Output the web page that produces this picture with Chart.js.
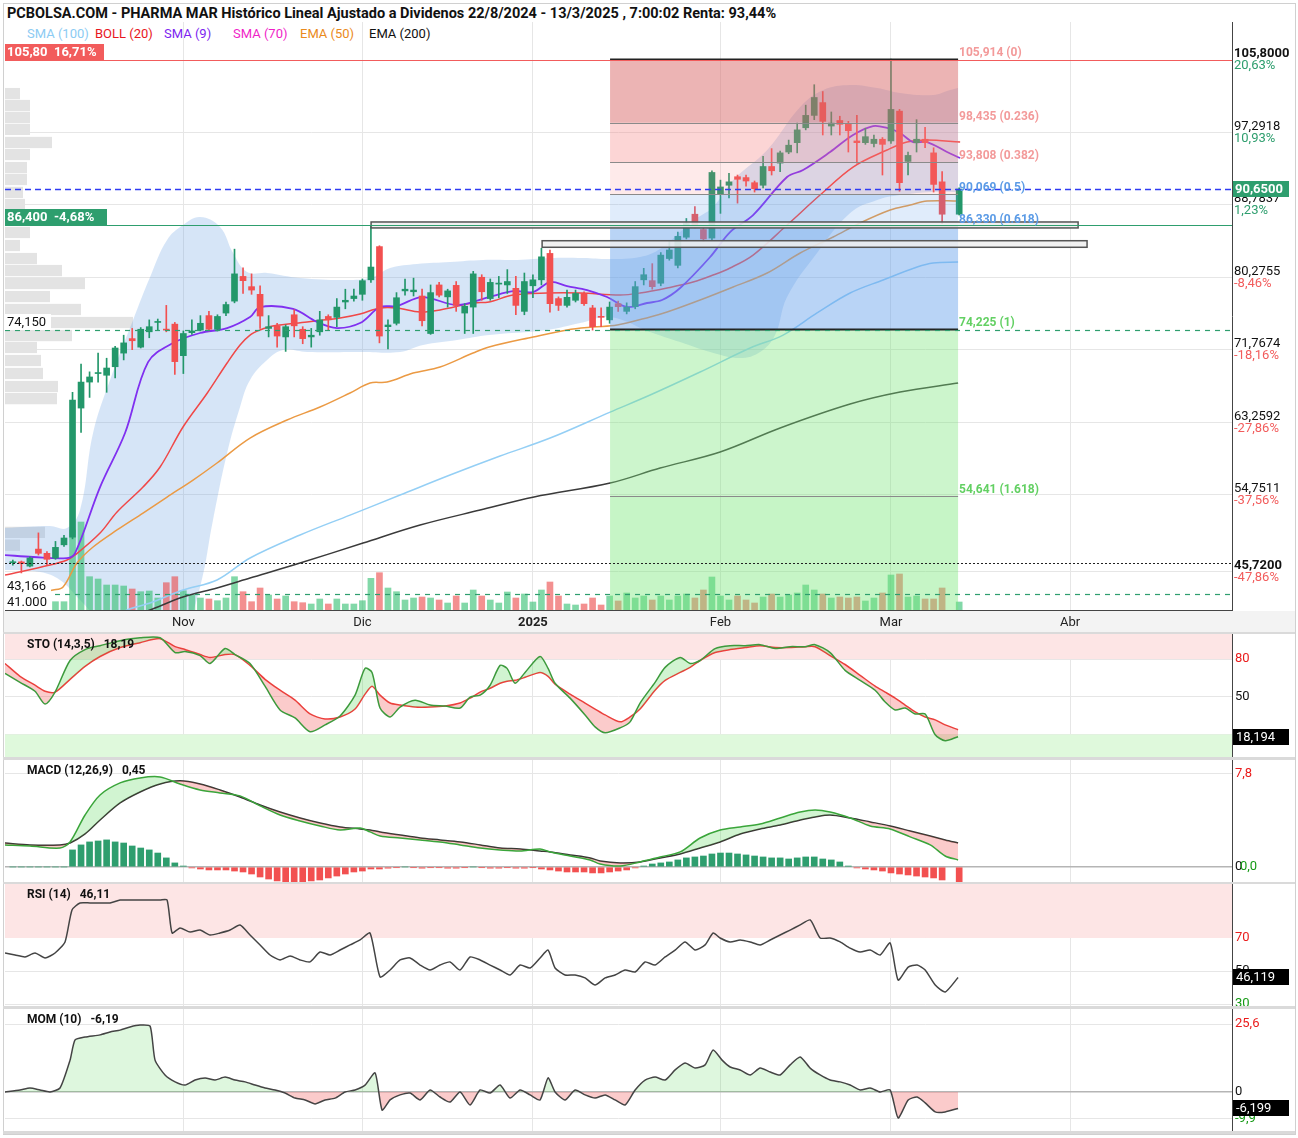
<!DOCTYPE html>
<html>
<head>
<meta charset="utf-8">
<script src="https://cdn.jsdelivr.net/npm/chart.js@4.4.1/dist/chart.umd.min.js"></script>
<style>
html,body{margin:0;padding:0;background:#fff;}
body{width:1298px;height:1138px;position:relative;overflow:hidden;font-family:Roboto,"Liberation Sans",Arial,sans-serif;}
canvas{position:absolute;left:0;}
.sep{position:absolute;left:3px;width:1292px;background:#dadada;}
#frame{position:absolute;left:3px;top:3px;width:1291px;height:1130px;border:1px solid #d0d0d0;}
#title{position:absolute;left:7px;top:5px;font-weight:bold;font-size:14.5px;color:#111;white-space:nowrap;}
.lg{position:absolute;top:26px;font-size:13px;white-space:nowrap;}
#xrow{position:absolute;left:4px;top:611px;width:1291px;height:21px;background:#f3f3f3;}
</style>
</head>
<body>
<div id="frame"></div>
<div id="xrow"></div>
<div id="title">PCBOLSA.COM - PHARMA MAR Histórico Lineal Ajustado a Dividenos 22/8/2024 - 13/3/2025 , 7:00:02 Renta: 93,44%</div>
<span class="lg" style="left:27px;color:#8ccbf3">SMA (100)</span>
<span class="lg" style="left:95px;color:#e8161e">BOLL (20)</span>
<span class="lg" style="left:164px;color:#7d1ff0">SMA (9)</span>
<span class="lg" style="left:233px;color:#f01fc8">SMA (70)</span>
<span class="lg" style="left:300px;color:#ea8a1c">EMA (50)</span>
<span class="lg" style="left:369px;color:#111">EMA (200)</span>
<canvas id="cMain" width="1298" height="610" style="top:22px"></canvas>
<div class="sep" style="top:632px;height:2px"></div>
<canvas id="cSto" width="1298" height="123" style="top:634px"></canvas>
<div class="sep" style="top:757px;height:3px"></div>
<canvas id="cMacd" width="1298" height="122" style="top:760px"></canvas>
<div class="sep" style="top:882px;height:2px"></div>
<canvas id="cRsi" width="1298" height="122" style="top:884px"></canvas>
<div class="sep" style="top:1006px;height:3px"></div>
<canvas id="cMom" width="1298" height="122" style="top:1009px"></canvas>
<div class="sep" style="top:1131px;height:3px"></div>
<script>
// ---------------- DATA ----------------
// trading-day index: 0 = 1 Nov 2024 ; first visible candle = -20
const firstDay = -20;
const monthK = [0, 21, 41, 63, 83, 104];
const monthLabels = ['Nov', 'Dic', '2025', 'Feb', 'Mar', 'Abr'];

const candleO = [46.8,46.9,46.4,48.4,47.9,47.35,48.9,49.8,64.95,68.0,69.0,68.8,69.8,71.4,73.1,72.1,73.9,75.0,74.2,74.8,
71.1,73.8,74.1,75.8,74.2,76.1,77.5,80.4,79.2,78.3,74.3,74.6,73.3,75.9,74.2,73.3,73.9,75.7,75.6,77.4,
77.8,78.3,80.0,83.9,74.5,74.9,78.7,78.6,78.1,73.7,79.4,78.0,79.35,76.1,76.8,80.3,77.8,79.5,79.4,79.0,
76.3,79.3,80.0,83.1,77.8,77.0,77.6,78.4,76.7,75.7,75.3,77.2,76.3,76.85,80.0,79.9,79.6,82.5,81.7,85.0,
87.7,85.9,84.9,90.0,91.1,92.1,92.0,91.4,91.1,93.3,93.7,95.0,96.1,97.85,99.3,100.8,98.05,98.7,98.3,96.3,
96.1,96.0,96.5,96.3,99.8,93.9,96.1,96.5,94.9,91.5,null,87.7];
const candleH = [47.1,47.0,47.5,50.3,48.1,49.3,50.0,66.8,70.1,69.2,71.4,70.8,72.2,73.5,74.3,74.4,75.3,75.4,77.0,75.0,
74.0,75.3,75.8,76.3,75.9,77.4,83.6,81.4,80.7,79.3,75.8,74.9,74.7,76.5,74.5,74.3,76.3,75.9,77.8,78.9,
78.9,80.1,86.3,84.0,75.3,78.5,80.1,80.2,78.9,79.4,79.7,78.9,79.8,77.2,81.0,80.6,80.1,80.4,81.2,80.4,
80.8,80.6,83.7,83.5,78.0,78.8,78.8,78.6,77.0,76.7,77.4,77.5,77.3,79.8,81.35,81.9,83.2,84.5,85.6,87.2,
88.6,86.3,92.8,91.7,92.5,92.3,92.3,91.6,94.5,95.4,95.1,96.4,98.4,100.5,102.9,102.1,99.7,99.2,98.6,99.3,
97.8,97.0,96.7,105.9,100.0,95.0,98.8,97.9,95.5,92.7,null,90.8];
const candleL = [46.5,45.6,46.3,47.7,46.5,47.2,48.7,49.6,62.1,66.2,68.0,66.8,68.5,70.6,71.8,72.0,73.2,74.1,73.9,68.9,
69.0,73.6,74.0,74.0,74.0,75.8,77.3,78.4,78.3,74.3,73.3,72.1,71.6,73.3,72.5,72.1,73.5,74.1,74.5,76.6,
77.5,77.6,79.7,72.6,71.9,74.7,78.2,78.1,74.6,73.6,78.0,76.8,76.3,73.7,73.7,77.6,77.6,77.9,78.4,75.9,
75.9,77.9,79.4,76.2,76.4,76.8,77.4,77.0,74.1,74.5,74.9,76.3,76.0,76.6,79.4,78.9,79.3,82.3,81.4,84.8,
86.1,84.5,84.6,87.8,89.6,89.0,91.0,90.3,90.8,92.3,92.7,94.8,94.9,97.6,98.8,97.0,97.0,97.0,95.0,93.7,
95.9,95.6,92.3,96.0,90.4,92.3,95.0,95.5,90.3,86.6,null,87.6];
const candleC = [46.85,46.7,47.35,47.9,47.2,48.6,49.7,65.9,68.0,68.6,69.1,69.65,72.0,72.6,72.85,74.2,74.5,75.1,74.1,70.4,
73.7,74.0,74.9,74.2,75.7,77.1,80.7,79.9,78.8,75.75,74.5,73.4,74.5,74.6,73.1,73.5,75.3,75.3,76.8,77.6,
78.1,79.9,81.5,73.4,74.7,77.9,78.9,78.8,75.2,78.5,78.2,78.7,77.0,76.9,80.7,78.6,79.7,79.6,79.8,77.0,
79.8,80.0,82.7,77.2,77.0,77.95,78.4,77.2,74.5,75.6,76.8,76.85,76.8,79.2,80.6,79.2,82.9,83.5,85.1,86.6,
86.4,84.8,92.6,90.9,91.5,91.8,91.6,90.7,93.3,92.8,94.9,95.8,97.6,99.3,101.4,98.6,98.4,98.25,97.5,96.1,
96.8,96.5,95.9,100.0,91.4,94.6,96.5,96.1,91.2,87.7,null,90.65];
// volume, thousands of shares
const volume = [150,150,150,150,150,166,166,1600,1760,666,620,500,500,480,420,366,380,240,546,666,
386,300,240,220,186,240,666,366,166,440,300,220,280,166,146,120,220,120,220,120,
120,186,634,746,440,366,200,240,260,240,200,140,280,140,400,280,200,140,360,240,
320,160,400,560,280,120,100,120,240,100,280,180,340,240,280,200,280,200,280,320,
240,400,660,280,200,280,200,140,260,320,260,300,340,500,400,320,240,260,240,260,
180,240,340,700,720,260,280,220,220,440,null,160];

// moving averages / bands: [day index] and [price]
const sma9K = [-20.92,-17.63,-13.64,-12.70,-9.77,-6.84,-4.14,-1.21,1.96,5.13,7.82,8.99,12.87,15.68,18.03,20.73,23.07,25.07,28.00,32.11,35.86,38.68,41.02,43.02,45.01,47.36,49.70,52.05,54.39,56.15,58.27,61.79,64.13,66.83,70.81,72.69,75.86,78.55,80.90,82.54,84.07,85.59,87.23,89.58,91.11];
const sma9V = [47.7,47.47,47.35,47.93,55.68,62.02,70.35,72.58,73.76,74.34,75.64,76.81,76.58,75.05,74.34,74.93,76.81,76.93,77.98,77.04,77.98,78.68,78.57,79.74,79.27,78.8,77.98,76.81,77.28,77.63,79.04,82.68,85.61,87.6,92.07,92.89,95.0,97.0,98.05,97.82,97.23,96.17,96.17,95.0,94.3];
const bollK = [-20.92,-15.64,-13.64,-12.70,-9.77,-7.78,-4.73,-2.73,-0.04,2.81,5.13,6.65,7.82,8.99,10.49,14.51,16.39,18.38,20.73,23.07,25.07,27.77,30.11,33.98,35.86,38.68,42.67,46.54,51.23,53.57,56.74,59.79,62.14,64.13,66.83,70.81,74.68,78.55,82.54,84.88,87.23,91.11];
const bollMidV = [45.35,46.53,47.12,47.7,50.28,52.75,55.68,58.03,62.73,66.72,70.24,72.35,73.52,74.11,74.58,75.05,75.28,75.52,75.99,76.69,76.69,76.22,76.46,77.28,77.4,78.22,78.45,78.45,78.22,78.45,79.04,79.74,80.56,81.39,82.91,86.43,89.95,93.24,95.24,96.17,96.41,96.17];
const bollUpK = [-20.92,-15.64,-13.64,-12.12,-10.59,-8.60,-5.90,-3.90,-1.91,-0.04,1.96,4.30,5.83,7.47,9.82,13.69,19.55,22.25,24.25,27.41,31.28,35.15,39.14,43.02,46.89,50.06,53.57,55.92,58.27,60.26,62.14,64.49,68.48,72.35,75.05,78.21,81.38,84.07,87.95,89.94,90.87];
const bollUpV = [50.87,51.1,50.87,52.98,62.02,68.24,75.28,80.33,84.67,86.43,87.37,86.2,83.15,80.92,80.8,80.21,79.98,80.33,81.39,81.86,82.09,82.33,82.33,82.56,82.56,82.44,82.68,83.62,85.61,87.25,88.55,91.72,95.24,100.28,102.28,102.87,102.51,101.93,101.69,102.28,102.51];
const bollLoK = [-20.92,-16.81,-14.47,-12.12,-9.77,-6.25,-2.73,0.20,1.96,3.48,5.13,6.65,7.82,9.82,11.69,14.51,21.08,25.42,28.12,32.11,35.86,42.67,46.54,50.06,54.75,58.27,61.79,65.31,67.65,69.41,70.81,74.33,78.21,81.38,84.07,87.95,90.87];
const bollLoV = [45.94,45.71,44.77,42.42,40.07,37.73,37.73,39.49,43.95,51.81,59.67,65.07,68.24,70.59,71.76,71.53,71.53,71.53,72.35,72.94,73.52,74.11,74.93,75.64,73.88,72.7,71.53,70.82,71.53,73.52,77.98,83.15,87.84,89.37,89.95,90.31,90.31];
const ema50K = [-20.92,-17.99,-15.28,-14.11,-12.47,-10.59,-7.78,-4.73,-1.91,1.14,3.95,7.82,12.16,16.03,19.55,21.90,23.90,26.95,30.11,33.98,35.86,41.02,45.01,48.06,50.88,54.75,56.74,60.61,64.49,68.48,72.35,76.22,79.38,82.90,85.25,87.23,90.87];
const ema50V = [42.89,43.12,43.59,43.95,46.76,48.64,50.64,52.63,54.51,56.5,58.5,61.43,63.55,65.07,66.72,67.89,68.0,69.06,69.77,71.41,72.12,73.29,74.11,74.46,74.7,75.64,76.22,77.63,79.16,80.8,83.15,85.03,86.67,88.19,88.78,89.25,89.25];
const sma100K = [-8.0,-6.60,-3.90,-0.04,3.95,7.82,13.69,19.55,25.42,31.28,37.15,43.02,50.06,54.75,60.61,66.48,70.35,74.33,78.21,82.08,86.07,87.95,90.87];
const sma100V = [40.3,41.25,42.07,43.59,44.77,47.35,50.05,52.39,54.74,57.09,59.32,61.43,64.48,66.48,69.18,72.0,73.52,76.11,78.45,79.98,81.5,81.97,82.09];
const ema200K = [-6.0,-3.90,-0.04,3.95,7.82,13.69,21.08,27.77,34.81,41.14,50.06,55.92,62.96,70.00,78.21,84.07,90.87];
const ema200V = [40.5,41.25,42.78,43.84,45.0,46.76,49.11,51.22,52.98,54.51,56.15,57.91,59.79,62.61,65.42,66.83,67.89];

// volume-at-price profile (left)
const profPrice = [101.8,100.4,99.0,97.6,96.06,94.65,93.12,91.72,90.2,88.78,87.37,85.5,83.97,82.44,81.03,79.51,77.98,76.46,74.93,73.4,72.0,70.47,68.95,67.42,66.0,50.3,48.8];
const profVol = [150,250,250,250,470,250,220,220,180,200,220,250,150,320,570,800,450,760,1280,670,320,360,380,530,520,400,150];

// Fibonacci retracement
const fibStart = 50.05, fibEnd = 90.87;
const fibLevels = [105.914, 98.435, 93.808, 90.069, 86.330, 74.225, 54.641];
const fibText = ['105,914 (0)', '98,435 (0.236)', '93,808 (0.382)', '90,069 (0.5)', '86,330 (0.618)', '74,225 (1)', '54,641 (1.618)'];

// horizontal levels and boxes
const levelValues = [105.8, 90.65, 86.4, 74.15, 46.76, 43.166];
const rectStart = [22.02, 42.08], rectEnd = [104.95, 106.0];
const rectHigh = [86.79, 84.59], rectLow = [86.09, 83.82];
const leftLabelValues = [105.8, 86.4, 74.15, 43.166, 41.25];
const leftLabelText = ['105,80  16,71%', '86,400  -4,68%', '74,150', '43,166', '41.000'];
const lastPrice = 90.65, lastPriceText = '90,6500';

// right axis
const priceTicks = [105.8, 97.2918, 88.7837, 80.2755, 71.7674, 63.2592, 54.7511, 45.72];
const priceTickText = ['105,8000','97,2918','88,7837','80,2755','71,7674','63,2592','54,7511','45,7200'];
const priceTickPct = ['20,63%','10,93%','1,23%','-8,46%','-18,16%','-27,86%','-37,56%','-47,86%'];

// Stochastic
const stoX = [-20.92,-19.16,-17.40,-16.22,-15.05,-13.29,-11.53,-9.77,-7.42,-5.08,-2.73,-0.97,0.20,1.96,3.13,4.89,6.06,7.82,9.58,11.34,13.10,14.86,16.62,18.38,20.14,21.31,22.13,23.07,24.25,25.42,27.18,28.94,30.70,32.46,33.63,34.81,35.98,37.15,37.97,38.91,40.08,41.84,42.78,43.60,45.36,47.12,48.29,49.47,51.23,52.40,53.57,55.33,56.51,58.27,59.44,60.61,62.37,64.13,65.89,67.65,69.41,71.17,72.93,74.10,75.86,77.62,79.38,81.14,82.32,83.49,84.66,85.84,87.01,88.19,89.36,90.87];
const stoK = [68.6,61.5,54.4,44.2,53.7,78.9,87.6,90.7,94.7,97.0,97.0,85.2,86.0,82.8,76.5,88.4,83.6,76.5,58.4,39.5,33.1,22.1,27.6,34.7,51.3,72.6,69.4,41.0,33.9,41.8,47.3,43.4,42.6,41.0,49.7,51.3,59.2,75.0,72.6,60.8,69.4,82.1,72.6,60.8,48.9,35.5,26.0,21.3,25.2,30.0,45.0,61.5,73.4,81.3,76.5,78.9,88.4,90.7,90.7,91.5,88.4,89.9,89.9,91.5,85.2,71.0,63.1,55.2,45.8,39.5,41.0,36.3,36.3,19.7,15.0,18.2];
const stoD = [76.5,66.3,59.2,54.4,53.7,63.9,74.2,82.1,89.2,93.1,96.3,89.9,87.6,83.6,81.3,83.6,83.6,75.0,63.9,55.2,47.3,36.3,32.3,33.9,40.2,52.1,58.4,51.3,45.0,43.4,41.8,41.8,42.6,45.0,48.9,53.7,56.8,60.8,62.3,63.1,65.5,69.4,66.3,60.0,52.1,45.0,40.2,35.5,30.0,33.9,40.2,55.2,63.1,69.4,73.4,78.9,85.2,87.6,89.2,90.7,89.2,89.2,89.9,89.9,82.8,75.7,67.1,58.4,53.7,48.9,43.4,37.9,33.9,31.6,27.6,23.7];

// MACD
const macdX = [-20.92,-17.99,-14.47,-13.29,-11.53,-9.77,-7.42,-5.08,-2.73,-0.39,1.96,4.30,6.65,9.00,11.34,13.69,16.03,18.38,20.73,21.90,23.07,25.42,27.77,30.11,32.46,34.81,37.15,39.50,41.84,43.02,45.36,47.71,48.88,51.23,53.57,55.92,58.27,60.61,62.96,65.31,67.65,70.00,72.35,74.10,75.86,78.21,80.56,82.90,85.25,87.60,89.36,90.87];
const macdLine = [1.85,1.76,1.59,2.10,4.36,6.04,7.05,7.47,7.55,6.96,6.46,6.21,5.96,5.12,4.36,3.86,3.44,3.10,3.27,2.94,2.60,2.43,2.27,2.10,1.85,1.59,1.43,1.34,1.51,1.26,0.92,0.59,0.25,0.08,0.42,0.84,1.26,2.43,3.10,3.36,3.61,4.11,4.61,4.78,4.61,4.11,3.44,3.19,2.52,1.85,0.92,0.59];
const macdSignal = [2.01,1.85,1.85,2.01,2.77,3.94,5.37,6.29,6.96,7.22,6.96,6.46,5.87,5.20,4.61,4.11,3.69,3.36,3.19,3.10,2.94,2.68,2.43,2.27,2.10,1.85,1.59,1.51,1.34,1.26,1.01,0.76,0.50,0.34,0.42,0.76,1.09,1.59,2.10,2.77,3.19,3.52,3.94,4.20,4.36,4.11,3.78,3.44,3.02,2.60,2.27,2.01];
const macdHist = [0,0,0,0,0,0,0,1.43,1.85,2.10,2.18,2.27,2.10,2.01,1.76,1.59,1.43,1.17,0.76,0.34,
0.08,-0.08,-0.17,-0.25,-0.25,-0.25,-0.34,-0.42,-0.59,-0.84,-1.01,-1.17,-1.26,-1.26,-1.26,-1.17,-1.09,-0.92,-0.76,-0.59,
-0.42,-0.34,-0.17,-0.17,-0.1,-0.05,0,-0.05,-0.1,-0.05,-0.05,-0.1,-0.1,-0.05,0,-0.05,-0.1,-0.1,-0.05,-0.1,
-0.1,-0.05,-0.17,-0.25,-0.34,-0.42,-0.42,-0.42,-0.5,-0.5,-0.42,-0.34,-0.25,-0.08,0.08,0.25,0.34,0.42,0.59,0.76,
0.84,0.92,1.09,1.17,1.17,1.09,1.01,0.92,0.84,0.76,0.76,0.67,0.76,0.84,0.84,0.67,0.59,0.42,0.08,-0.08,
-0.17,-0.25,-0.34,-0.5,-0.59,-0.67,-0.76,-0.84,-0.92,-1.09,null,-1.26];

// RSI
const rsiX = [-20.92,-19.74,-18.57,-17.40,-16.22,-15.05,-13.88,-13.06,-12.12,-10.95,-9.77,-8.60,-7.42,-6.25,-5.08,-3.90,-2.73,-1.91,-1.32,-0.39,0.79,1.96,3.13,4.30,5.48,6.65,7.82,9.00,10.17,11.34,12.52,13.69,14.86,16.03,17.21,18.38,19.55,20.73,21.90,23.07,24.25,25.42,26.59,27.77,28.94,30.11,31.28,32.46,33.63,34.81,35.98,37.15,38.32,39.50,40.67,41.84,42.78,43.60,44.77,45.95,47.12,48.29,49.47,50.64,51.81,52.99,54.16,55.33,56.51,57.68,58.85,60.03,61.20,62.14,62.96,64.13,65.31,66.48,67.65,68.83,70.00,71.17,72.35,73.52,74.69,75.86,77.04,78.21,79.38,80.56,81.73,82.90,83.84,85.02,86.07,87.01,88.19,89.36,90.87];
const rsiV = [60.9,59.7,58.5,60.9,57.9,60.9,67.6,87.0,91.2,91.2,91.2,91.2,93.0,93.0,93.0,93.0,93.0,93.0,73.0,76.1,73.6,74.8,71.8,73.0,74.8,77.9,71.8,65.8,59.7,56.7,59.1,56.7,55.5,61.5,59.7,62.7,65.8,68.8,73.0,46.4,50.6,56.7,57.9,53.6,50.6,53.6,55.5,50.6,58.5,56.7,53.6,50.6,47.6,53.6,51.8,57.9,62.7,51.8,47.6,47.6,45.8,41.5,45.8,47.6,50.6,49.4,55.5,53.6,58.5,62.7,67.6,62.7,65.8,73.0,70.0,67.6,68.8,67.6,65.8,68.8,71.8,74.8,77.9,80.9,70.0,70.0,67.6,63.9,61.5,62.7,59.7,67.0,44.5,52.4,53.6,50.6,41.5,37.3,46.1];

// Momentum
const momX = [-20.92,-19.16,-17.99,-16.81,-15.64,-14.47,-13.29,-12.70,-11.53,-9.77,-8.60,-7.42,-6.25,-5.08,-3.90,-3.32,-2.15,-0.97,0.20,1.37,2.55,3.72,4.89,6.06,7.24,8.41,9.58,10.76,11.93,13.10,14.28,15.45,16.62,17.79,18.97,20.14,21.31,22.49,23.31,24.25,25.42,26.59,27.77,28.94,30.11,31.28,32.46,33.63,34.81,35.98,37.15,38.32,39.50,40.67,41.84,42.78,43.60,44.77,45.95,47.12,48.29,49.47,50.64,51.81,52.99,54.16,55.33,56.51,57.68,58.85,60.03,61.20,62.14,63.19,64.13,65.31,66.48,67.65,68.83,70.00,71.17,72.35,73.52,74.69,75.86,77.04,78.21,79.38,80.56,81.73,82.90,83.84,85.02,86.07,87.01,88.19,89.36,90.87];
const momV = [0,0.75,1.5,0.75,0,1.5,12.0,19.6,20.7,21.5,22.6,23.3,24.5,25.2,24.8,12.0,6.4,3.8,2.6,4.5,5.3,4.5,5.6,4.5,3.8,2.6,1.5,0.75,-0.4,-2.3,-3.0,-4.5,-3.0,-2.3,0,0.75,2.6,7.2,-6.8,-3.0,-1.1,-0.4,-3.0,0.75,-1.9,-3.8,0,-4.9,0.75,-0.4,2.6,-2.3,0.75,-1.1,-3.0,5.3,0,-3.0,0.75,-1.1,-2.3,-1.1,-3.0,-4.9,0.75,4.5,5.6,4.5,8.3,10.9,9.0,10.2,15.8,12.0,9.4,8.3,6.4,9.0,7.5,6.4,10.2,13.2,9.0,6.4,4.5,3.8,2.6,0.75,1.5,0,0.75,-9.8,-3.0,-1.9,-4.1,-7.5,-7.5,-6.2];

// ---------------- STYLE / BUILD ----------------
const FONT = "Roboto, 'Liberation Sans', Arial, sans-serif";
Chart.defaults.font.family = FONT;
Chart.defaults.animation = false;
const K_MIN = -20.92, K_MAX = 123.0;
const GREEN = '#23976a', RED = '#f25050';

const pts = (xs, vs) => xs.map((x, i) => ({x: x, y: vs[i]}));

function xAxis(showLabels) {
  return {
    type: 'linear', min: K_MIN, max: K_MAX, offset: false,
    afterBuildTicks: s => { s.ticks = monthK.map(v => ({value: v})); },
    ticks: {
      display: showLabels, autoSkip: false, maxRotation: 0, padding: 5, color: '#222',
      font: c => ({size: 13, weight: (c.tick && c.tick.value === 41) ? 'bold' : 'normal'}),
      callback: v => monthLabels[monthK.indexOf(v)]
    },
    grid: {color: '#e6e6e6', drawTicks: false, offset: false},
    border: {display: showLabels, color: '#444'},
    afterFit: s => { s.height = showLabels ? 22 : 0; }
  };
}

// candles
const cBody = [], cWick = [], cCol = [], vBars = [], vCol = [];
candleO.forEach((o, i) => {
  const k = firstDay + i;
  if (o === null) return;
  const c = candleC[i];
  const up = c >= o;
  cBody.push({x: k, y: [Math.min(o, c), Math.max(o, c)]});
  cWick.push({x: k, y: [candleL[i], candleH[i]]});
  cCol.push(up ? GREEN : RED);
  vBars.push({x: k, y: volume[i]});
  vCol.push(up ? 'rgba(46,190,110,0.6)' : 'rgba(235,70,70,0.6)');
});

const mainPlugin = {
  id: 'mainDeco',
  beforeDatasetsDraw(chart) {
    const {ctx, chartArea: a, scales} = chart;
    const y = scales.y, xp = scales.xp;
    ctx.save();
    ctx.fillStyle = '#e3e3e3';
    profPrice.forEach((p, i) => {
      const yt = y.getPixelForValue(p + 0.72), yb = y.getPixelForValue(p - 0.72);
      const w = xp.getPixelForValue(profVol[i]) - xp.getPixelForValue(0);
      ctx.fillRect(a.left, yt, w, yb - yt - 1);
    });
    ctx.restore();
  },
  afterDatasetsDraw(chart) {
    const {ctx, chartArea: a, scales: {x, y}} = chart;
    ctx.save();
    ctx.beginPath(); ctx.rect(a.left, a.top, a.width, a.height); ctx.clip();
    const x0 = x.getPixelForValue(fibStart), x1 = x.getPixelForValue(fibEnd);
    const ys = fibLevels.map(v => y.getPixelForValue(v));
    const zoneCol = ['rgba(217,105,105,0.5)', 'rgba(246,126,126,0.33)', 'rgba(246,126,126,0.16)',
      'rgba(100,160,235,0.2)', 'rgba(100,160,235,0.45)', 'rgba(120,230,120,0.38)', 'rgba(120,230,120,0.42)'];
    for (let i = 0; i < ys.length; i++) {
      const yb = i < ys.length - 1 ? ys[i + 1] : a.bottom;
      ctx.fillStyle = zoneCol[i];
      ctx.fillRect(x0, ys[i], x1 - x0, yb - ys[i]);
    }
    ys.forEach((yy, i) => {
      ctx.beginPath();
      ctx.strokeStyle = (i === 0 || i === 5) ? '#222' : '#8a8a8a';
      ctx.lineWidth = (i === 0 || i === 5) ? 2 : 1;
      ctx.moveTo(x0, Math.round(yy) + 0.5); ctx.lineTo(x1, Math.round(yy) + 0.5); ctx.stroke();
    });
    rectStart.forEach((s, i) => {
      const rx0 = x.getPixelForValue(s), rx1 = x.getPixelForValue(rectEnd[i]);
      const ry0 = y.getPixelForValue(rectHigh[i]), ry1 = y.getPixelForValue(rectLow[i]);
      ctx.fillStyle = 'rgba(238,238,238,0.85)';
      ctx.fillRect(rx0, ry0, rx1 - rx0, ry1 - ry0);
      ctx.strokeStyle = '#555'; ctx.lineWidth = 1.5;
      ctx.strokeRect(rx0, ry0, rx1 - rx0, ry1 - ry0);
    });
    const lvStyle = [
      {c: '#f25c5c', d: [], w: 1.2}, {c: '#2f3cf2', d: [6, 4], w: 1.4}, {c: '#2e9e6e', d: [], w: 1.2},
      {c: '#2e9e6e', d: [5, 5], w: 1.2}, {c: '#222', d: [2, 2], w: 1}, {c: '#2e9e6e', d: [5, 5], w: 1.2}];
    levelValues.forEach((v, i) => {
      const yy = Math.round(y.getPixelForValue(v)) + 0.5;
      ctx.beginPath(); ctx.setLineDash(lvStyle[i].d);
      ctx.strokeStyle = lvStyle[i].c; ctx.lineWidth = lvStyle[i].w;
      ctx.moveTo(a.left, yy); ctx.lineTo(a.right, yy); ctx.stroke();
    });
    ctx.setLineDash([]);
    ctx.font = 'bold 12px ' + FONT; ctx.textAlign = 'left'; ctx.textBaseline = 'alphabetic';
    const fibCol = ['#f39a9a', '#f39a9a', '#f39a9a', '#5b9be6', '#5b9be6', '#63d063', '#63d063'];
    ys.forEach((yy, i) => { ctx.fillStyle = fibCol[i]; ctx.fillText(fibText[i], x1 + 1, yy - 3); });
    const llStyle = [{bg: '#f25c5c', fg: '#fff', w: 99, b: true}, {bg: '#2e9e6e', fg: '#fff', w: 102, b: true},
      {bg: '#fff', fg: '#111', w: 46, b: false}, {bg: '#fff', fg: '#111', w: 46, b: false}, {bg: '#fff', fg: '#111', w: 46, b: false}];
    leftLabelValues.forEach((v, i) => {
      const yy = Math.round(y.getPixelForValue(v));
      const st = llStyle[i];
      ctx.fillStyle = st.bg; ctx.fillRect(a.left, yy - 16, st.w, 16);
      ctx.fillStyle = st.fg; ctx.font = (st.b ? 'bold ' : '') + '13px ' + FONT;
      ctx.textBaseline = 'middle';
      ctx.fillText(leftLabelText[i], a.left + 2, yy - 7.5);
    });
    ctx.restore();
  },
  afterDraw(chart) {
    const {ctx, chartArea: a, scales: {y}} = chart;
    ctx.save();
    ctx.textAlign = 'left'; ctx.textBaseline = 'middle';
    priceTicks.forEach((v, i) => {
      const yy = y.getPixelForValue(v);
      const bold = (i === 0 || i === priceTicks.length - 1);
      ctx.font = (bold ? 'bold ' : '') + '13px ' + FONT;
      ctx.fillStyle = '#111';
      ctx.fillText(priceTickText[i], a.right + 2, yy - 6);
      ctx.font = '13px ' + FONT;
      ctx.fillStyle = priceTickPct[i].startsWith('-') ? '#f25c5c' : '#2e9e6e';
      ctx.fillText(priceTickPct[i], a.right + 2, yy + 6);
    });
    const yl = Math.round(y.getPixelForValue(lastPrice));
    ctx.fillStyle = '#2e9e6e'; ctx.fillRect(a.right + 1, yl - 8, 56, 16);
    ctx.fillStyle = '#fff'; ctx.font = 'bold 13px ' + FONT;
    ctx.fillText(lastPriceText, a.right + 3, yl + 0.5);
    ctx.restore();
  }
};

new Chart(document.getElementById('cMain'), {
  type: 'bar',
  data: {
    datasets: [
      {type: 'bar', data: cBody, backgroundColor: cCol, barThickness: 6, grouped: false, minBarLength: 1, order: 1},
      {type: 'bar', data: cWick, backgroundColor: cCol, barThickness: 1, grouped: false, minBarLength: 1, order: 2},
      {type: 'line', data: pts(sma9K, sma9V), borderColor: '#8030f0', borderWidth: 1.8, pointRadius: 0, tension: 0.35, order: 3},
      {type: 'line', data: pts(bollK, bollMidV), borderColor: '#f04848', borderWidth: 1.5, pointRadius: 0, tension: 0.35, order: 4},
      {type: 'line', data: pts(ema50K, ema50V), borderColor: '#eb9a44', borderWidth: 1.5, pointRadius: 0, tension: 0.35, order: 5},
      {type: 'line', data: pts(sma100K, sma100V), borderColor: '#94cff5', borderWidth: 1.5, pointRadius: 0, tension: 0.35, order: 5},
      {type: 'line', data: pts(ema200K, ema200V), borderColor: '#3a3a3a', borderWidth: 1.5, pointRadius: 0, tension: 0.35, order: 5},
      {type: 'bar', data: vBars, backgroundColor: vCol, barThickness: 6, grouped: false, yAxisID: 'yv', order: 8},
      {type: 'line', data: pts(bollUpK, bollUpV), borderWidth: 0, borderColor: 'rgba(0,0,0,0)', pointRadius: 0, tension: 0.4,
        fill: 9, backgroundColor: 'rgba(120,170,230,0.3)', order: 10},
      {type: 'line', data: pts(bollLoK, bollLoV), borderWidth: 0, borderColor: 'rgba(0,0,0,0)', pointRadius: 0, tension: 0.4, fill: false, order: 10}
    ]
  },
  options: {
    responsive: false, devicePixelRatio: 1, animation: false,
    layout: {padding: {left: 5}},
    plugins: {legend: {display: false}, tooltip: {enabled: false}},
    scales: {
      x: xAxis(true),
      xp: {type: 'linear', axis: 'x', display: false, min: 0, max: 12270, offset: false},
      y: {
        position: 'right', min: 41.25, max: 110.26,
        afterBuildTicks: s => { s.ticks = priceTicks.map(v => ({value: v})); },
        ticks: {display: false}, grid: {color: '#e6e6e6', drawTicks: false},
        border: {display: true, color: '#444'},
        afterFit: s => { s.width = 66; }
      },
      yv: {display: false, min: 0, max: 11760}
    }
  },
  plugins: [mainPlugin]
});

// ---------- indicator panels ----------
function panelDeco(id, d) {
  return {
    id: 'deco_' + id,
    beforeDatasetsDraw(chart) {
      const {ctx, chartArea: a, scales: {y}} = chart;
      ctx.save();
      (d.bands || []).forEach(b => {
        const y1 = y.getPixelForValue(Math.min(b.to, y.max)), y2 = y.getPixelForValue(Math.max(b.from, y.min));
        ctx.fillStyle = b.color; ctx.fillRect(a.left, y1, a.width, y2 - y1);
      });
      ctx.restore();
    },
    afterDraw(chart) {
      const {ctx, chartArea: a, scales: {y}} = chart;
      ctx.save();
      ctx.textAlign = 'left'; ctx.textBaseline = 'middle';
      ctx.font = 'bold 12px ' + FONT; ctx.fillStyle = '#111';
      ctx.fillText(d.title, a.left + 22, a.top + 11);
      ctx.font = '13px ' + FONT;
      d.labels.forEach(l => { ctx.fillStyle = l.c; ctx.fillText(l.t, a.right + 3 + (l.dx || 0), y.getPixelForValue(l.v)); });
      if (d.box) {
        const yy = Math.round(y.getPixelForValue(d.box.v));
        ctx.fillStyle = '#000'; ctx.fillRect(a.right + 1, yy - 8, 56, 16);
        ctx.fillStyle = '#fff'; ctx.fillText(d.box.t, a.right + 4, yy + 0.5);
      }
      ctx.restore();
    }
  };
}

function panel(id, yMin, yMax, gridVals, datasets, deco) {
  return new Chart(document.getElementById(id), {
    type: 'line',
    data: {datasets},
    options: {
      responsive: false, devicePixelRatio: 1, animation: false,
      layout: {padding: {left: 5}},
      plugins: {legend: {display: false}, tooltip: {enabled: false}},
      elements: {point: {radius: 0}},
      scales: {
        x: xAxis(false),
        y: {
          position: 'right', min: yMin, max: yMax,
          afterBuildTicks: s => { s.ticks = gridVals.map(v => ({value: v})); },
          ticks: {display: false},
          grid: {color: c => (c.tick && c.tick.value === 0) ? '#b5b5b5' : '#e6e6e6', lineWidth: c => (c.tick && c.tick.value === 0) ? 1.5 : 1, drawTicks: false},
          border: {display: true, color: '#444'},
          afterFit: s => { s.width = 66; }
        }
      }
    },
    plugins: [panelDeco(id, deco)]
  });
}

const RED_T = '#ea1b1b', GRN_T = '#159a15';
panel('cSto', 2, 100, [80, 50, 20], [
  {data: pts(stoX, stoK), borderColor: '#3c9a3c', borderWidth: 1.5, tension: 0.25,
    fill: {target: 1, above: 'rgba(70,210,70,0.25)', below: 'rgba(240,70,70,0.28)'}},
  {data: pts(stoX, stoD), borderColor: '#f03c3c', borderWidth: 1.5, tension: 0.25, fill: false}
], {title: 'STO (14,3,5)   18,19',
  bands: [{from: 80, to: 100, color: '#fde5e5'}, {from: 0, to: 20, color: '#dff9dc'}],
  labels: [{v: 80, t: '80', c: RED_T}, {v: 50, t: '50', c: '#111'}], box: {v: 18.194, t: '18,194'}});

const histData = [], histCol = [];
macdHist.forEach((v, i) => { if (v === null) return; histData.push({x: firstDay + i, y: v}); histCol.push(v >= 0 ? '#2e9e6e' : '#f25050'); });
panel('cMacd', -1.26, 8.97, [7.8, 0], [
  {data: pts(macdX, macdLine), borderColor: '#3aa53a', borderWidth: 1.5, tension: 0.3,
    fill: {target: 1, above: 'rgba(70,210,70,0.25)', below: 'rgba(240,70,70,0.28)'}},
  {data: pts(macdX, macdSignal), borderColor: '#333', borderWidth: 1.5, tension: 0.3, fill: false},
  {type: 'bar', data: histData, backgroundColor: histCol, barThickness: 6, grouped: false}
], {title: 'MACD (12,26,9)   0,45',
  labels: [{v: 7.8, t: '7,8', c: RED_T}, {v: 0, t: '0', c: '#111'}, {v: 0, t: '0,0', c: GRN_T, dx: 5}]});

panel('cRsi', 28.8, 102.7, [70, 50, 30], [
  {data: pts(rsiX, rsiV), borderColor: '#444', borderWidth: 1.5, tension: 0.2, fill: false}
], {title: 'RSI (14)   46,11', bands: [{from: 70, to: 200, color: '#fde5e5'}],
  labels: [{v: 70, t: '70', c: RED_T}, {v: 50, t: '50', c: '#111'}, {v: 30, t: '30', c: GRN_T}], box: {v: 46.119, t: '46,119'}});

panel('cMom', -14.7, 31.25, [25.6, 0, -9.9], [
  {data: pts(momX, momV), borderColor: '#444', borderWidth: 1.5, tension: 0.2,
    fill: {target: {value: 0}, above: 'rgba(70,210,70,0.18)', below: 'rgba(240,70,70,0.28)'}}
], {title: 'MOM (10)   -6,19',
  labels: [{v: 25.6, t: '25,6', c: RED_T}, {v: 0, t: '0', c: '#111'}, {v: -9.9, t: '-9,9', c: GRN_T}], box: {v: -6.199, t: '-6,199'}});
</script>
</body>
</html>
